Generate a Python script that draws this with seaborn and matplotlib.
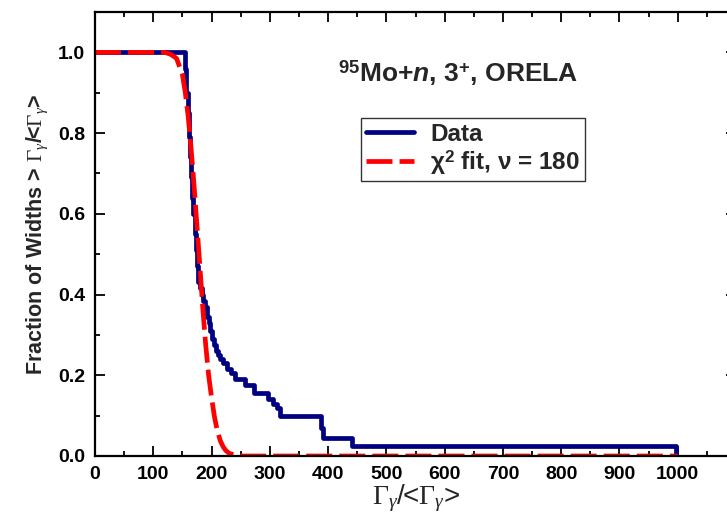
import matplotlib
matplotlib.use("Agg")
import matplotlib.pyplot as plt
import seaborn as sns
from matplotlib.ticker import MultipleLocator

# ---- data ----
data_x = [0, 155, 157, 159, 161, 163, 165, 167, 169, 171, 173, 175, 177, 180,
          183, 186, 189, 192, 195, 198, 201, 204, 207, 211, 215, 220, 226, 233,
          240, 258, 272, 297, 305, 312, 318, 387, 392, 441, 997]
data_y = [1.0, 0.96, 0.90, 0.85, 0.79, 0.74, 0.69, 0.64, 0.60, 0.55, 0.51, 0.47,
          0.43, 0.415, 0.40, 0.385, 0.37, 0.345, 0.33, 0.31, 0.29, 0.275, 0.26,
          0.25, 0.24, 0.23, 0.215, 0.205, 0.19, 0.175, 0.155, 0.14, 0.13, 0.12,
          0.10, 0.07, 0.045, 0.025, 0.0]

fit_x = [0, 120, 130, 140, 150, 155, 160, 165, 170, 175, 180, 185, 190, 195,
         200, 205, 210, 215, 220, 225, 230, 240, 250, 1000]
fit_y = [1.0, 1.0, 0.995, 0.985, 0.945, 0.90, 0.84, 0.76, 0.67, 0.57, 0.47,
         0.365, 0.275, 0.20, 0.145, 0.097, 0.062, 0.038, 0.0225, 0.0128, 0.007,
         0.0019, 0.0, 0.0]

x_ticks = [0, 100, 200, 300, 400, 500, 600, 700, 800, 900, 1000]
y_ticks = [0.0, 0.2, 0.4, 0.6, 0.8, 1.0]

sns.set_style("ticks")
plt.rcParams['font.family'] = ['Liberation Sans', 'DejaVu Sans']
plt.rcParams['mathtext.fontset'] = 'custom'
plt.rcParams['mathtext.rm'] = 'Liberation Serif'
plt.rcParams['mathtext.it'] = 'Liberation Serif:italic'
plt.rcParams['mathtext.bf'] = 'Liberation Sans:bold'
plt.rcParams['mathtext.bfit'] = 'Liberation Sans:italic:bold'

fig = plt.figure(figsize=(7.27, 5.23), dpi=100)
ax = fig.add_axes([95/727, 1 - 456/523, (736 - 95)/727, (456 - 12)/523])

sns.lineplot(x=data_x, y=data_y, drawstyle='steps-post', estimator=None, sort=False,
             color='#000080', lw=3.4, ax=ax, label='Data')
sns.lineplot(x=fit_x, y=fit_y, estimator=None, sort=False,
             color='#ff0000', lw=3.4, ax=ax, label=r'χ$^{\mathbf{2}}$ fit, ν = 180')
ax.lines[1].set_dashes([5.5, 1.5])
ax.lines[1].set_dash_capstyle('butt')

ax.set_xlim(0, 1100)
ax.set_ylim(0, 1.1)
ax.set_xticks(x_ticks)
ax.set_yticks(y_ticks)
ax.set_xticklabels([str(v) for v in x_ticks])
ax.set_yticklabels([f"{v:.1f}" for v in y_ticks])
ax.xaxis.set_minor_locator(MultipleLocator(50))
ax.yaxis.set_minor_locator(MultipleLocator(0.1))
ax.tick_params(which='both', direction='in', top=True, right=True, width=1.3, colors='black')
ax.tick_params(which='major', length=7, labelsize=14, pad=7)
ax.tick_params(which='minor', length=3.5)
for lab in ax.get_xticklabels() + ax.get_yticklabels():
    lab.set_fontweight('bold')
for s in ax.spines.values():
    s.set_linewidth(1.6)
    s.set_color('black')

ax.set_xlabel(r'$\Gamma_\gamma$/<$\Gamma_\gamma$>', fontsize=20, labelpad=0)
ax.set_ylabel(r'Fraction of Widths > $\Gamma_\gamma$/<$\Gamma_\gamma$>', fontsize=15.5,
              fontweight='bold', labelpad=6)

ax.text(623, 0.948, r'$^{\mathbf{95}}$Mo+$\mathbfit{n}$, 3$^{\mathbf{+}}$, ORELA',
        fontsize=19, fontweight='bold', ha='center', va='center')

leg = ax.legend(loc='upper left', bbox_to_anchor=(361/727, 1 - 118/523),
                bbox_transform=fig.transFigure, borderaxespad=0, frameon=True,
                fancybox=False, edgecolor='black', handlelength=2.0,
                handletextpad=0.65, prop={'weight': 'bold', 'size': 17.5},
                borderpad=0.2, labelspacing=0.08)
leg.get_frame().set_linewidth(1.0)

fig.savefig('out.png', dpi=100)
